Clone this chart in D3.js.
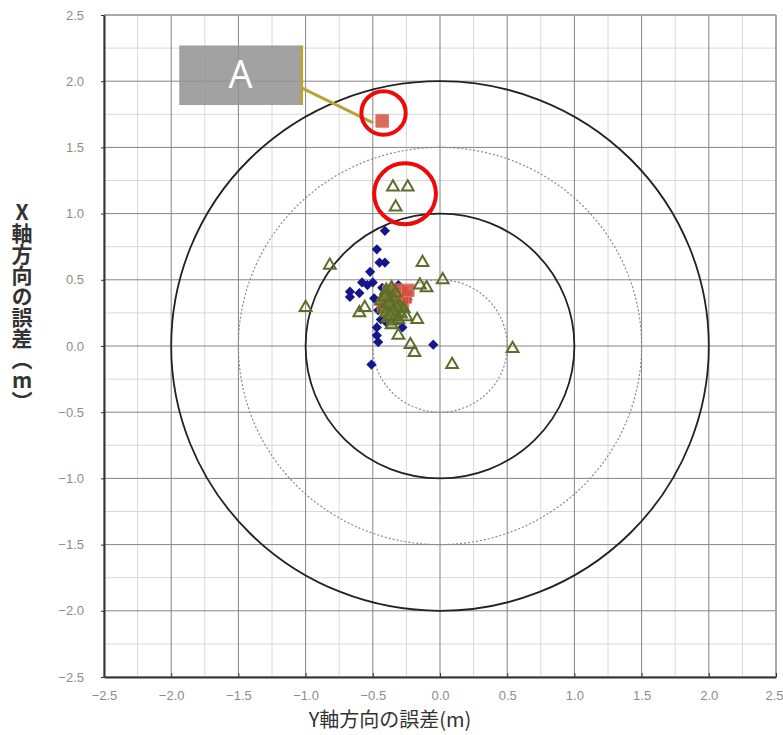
<!DOCTYPE html>
<html>
<head>
<meta charset="utf-8">
<script src="https://d3js.org/d3.v7.min.js"></script>
<style>
  html, body { margin: 0; padding: 0; background: #fff; }
  svg { display: block; }
</style>
</head>
<body>
<div id="chart"></div>
<script>
'use strict';

// ─── DATA ────────────────────────────────────────────────────

var tickValues = [-2.5, -2.0, -1.5, -1.0, -0.5, 0.0, 0.5, 1.0, 1.5, 2.0, 2.5];
var minorValues = [-2.25, -1.75, -1.25, -0.75, -0.25, 0.25, 0.75, 1.25, 1.75, 2.25];

var solidRadii = [1.0, 2.0];
var dottedRadii = [0.5, 1.5];

// [Y error, X error]
var blueDiamonds = [
    [-0.41, 0.87], [-0.47, 0.73], [-0.45, 0.63], [-0.41, 0.63], [-0.52, 0.56],
    [-0.67, 0.41], [-0.67, 0.37], [-0.58, 0.48], [-0.54, 0.46], [-0.50, 0.48],
    [-0.43, 0.44], [-0.31, 0.46], [-0.26, 0.40], [-0.44, 0.20], [-0.40, 0.18],
    [-0.47, 0.14], [-0.47, 0.08], [-0.46, 0.03], [-0.28, 0.14], [-0.05, 0.01],
    [-0.51, -0.14], [-0.49, 0.36], [-0.46, 0.27], [-0.60, 0.40], [-0.24, 0.35]
];

var redSquares = [
    [-0.43, 1.70],
    [-0.33, 0.42], [-0.29, 0.40], [-0.26, 0.37], [-0.31, 0.35], [-0.36, 0.38],
    [-0.28, 0.33], [-0.38, 0.41], [-0.24, 0.42], [-0.33, 0.31], [-0.42, 0.31]
];

var greenTriangles = [
    [-0.35, 1.20], [-0.24, 1.20], [-0.33, 1.05],
    [-0.82, 0.61], [-1.00, 0.29], [-0.13, 0.63], [0.02, 0.50], [-0.15, 0.46],
    [-0.10, 0.44], [-0.60, 0.25], [-0.56, 0.29], [-0.17, 0.20], [-0.25, 0.22],
    [-0.31, 0.08], [-0.22, 0.01], [-0.19, -0.05], [0.09, -0.14], [0.54, -0.02]
];

// dense core of the triangle series
var clusterTriangles = [
    [-0.40, 0.42], [-0.36, 0.44], [-0.33, 0.40], [-0.38, 0.36], [-0.34, 0.34],
    [-0.30, 0.30], [-0.42, 0.28], [-0.37, 0.27], [-0.33, 0.25], [-0.29, 0.24],
    [-0.39, 0.21], [-0.35, 0.19], [-0.31, 0.20], [-0.44, 0.34], [-0.27, 0.28],
    [-0.36, 0.31], [-0.32, 0.29], [-0.40, 0.25], [-0.34, 0.22], [-0.38, 0.32],
    [-0.35, 0.26], [-0.37, 0.23], [-0.41, 0.37], [-0.36, 0.16]
];

// highlight rings: centre and radius in metres
var highlightRings = [
    { x: -0.42, y: 1.76, r: 0.165 },
    { x: -0.26, y: 1.15, r: 0.23 }
];

// callout box "A" (data extent) and the point it refers to
var callout = { label: 'A', x0: -1.94, x1: -1.03, y0: 2.27, y1: 1.82, yLeader: 1.95, target: [-0.43, 1.70] };

var xTitle = 'Y軸方向の誤差(m)';
var yTitle = 'X軸方向の誤差︵m︶';

// ─── LAYOUT ──────────────────────────────────────────────────

var width = 783, height = 735;
var margin = { top: 15, right: 7, bottom: 58, left: 104 };

var svg = d3.select('#chart').append('svg')
    .attr('width', width)
    .attr('height', height);

var x = d3.scaleLinear().domain([-2.5, 2.5]).range([margin.left, width - margin.right]);
var y = d3.scaleLinear().domain([-2.5, 2.5]).range([height - margin.bottom, margin.top]);

var fmt = function(d) { return d3.format('.1f')(d).replace('-', '−'); };

// ─── GRID ────────────────────────────────────────────────────

var grid = svg.append('g').attr('class', 'grid');

grid.selectAll('line.minor-v').data(minorValues).enter().append('line')
    .attr('x1', function(d) { return x(d); }).attr('x2', function(d) { return x(d); })
    .attr('y1', y(-2.5)).attr('y2', y(2.5))
    .attr('stroke', '#d8d8d8').attr('stroke-width', 1);
grid.selectAll('line.minor-h').data(minorValues).enter().append('line')
    .attr('y1', function(d) { return y(d); }).attr('y2', function(d) { return y(d); })
    .attr('x1', x(-2.5)).attr('x2', x(2.5))
    .attr('stroke', '#d8d8d8').attr('stroke-width', 1);

grid.selectAll('line.major-v').data(tickValues).enter().append('line')
    .attr('x1', function(d) { return x(d); }).attr('x2', function(d) { return x(d); })
    .attr('y1', y(-2.5)).attr('y2', y(2.5))
    .attr('stroke', '#858585').attr('stroke-width', 1);
grid.selectAll('line.major-h').data(tickValues).enter().append('line')
    .attr('y1', function(d) { return y(d); }).attr('y2', function(d) { return y(d); })
    .attr('x1', x(-2.5)).attr('x2', x(2.5))
    .attr('stroke', '#858585').attr('stroke-width', 1);

// frame: top/right light, left/bottom dark
svg.append('line').attr('x1', x(-2.5)).attr('x2', x(2.5)).attr('y1', y(2.5)).attr('y2', y(2.5))
    .attr('stroke', '#a8a8a8').attr('stroke-width', 2);
svg.append('line').attr('x1', x(2.5)).attr('x2', x(2.5)).attr('y1', y(2.5)).attr('y2', y(-2.5))
    .attr('stroke', '#a8a8a8').attr('stroke-width', 2);

// ─── AXES ────────────────────────────────────────────────────

var xAxis = svg.append('g')
    .attr('transform', 'translate(0,' + y(-2.5) + ')')
    .call(d3.axisBottom(x).tickValues(tickValues).tickFormat(fmt).tickSizeInner(-4).tickSizeOuter(0).tickPadding(14));
var yAxis = svg.append('g')
    .attr('transform', 'translate(' + x(-2.5) + ',0)')
    .call(d3.axisLeft(y).tickValues(tickValues).tickFormat(fmt).tickSizeInner(3).tickSizeOuter(0).tickPadding(17));

[xAxis, yAxis].forEach(function(ax) {
    ax.select('.domain').attr('stroke', '#333').attr('stroke-width', 2);
    ax.selectAll('.tick line').attr('stroke', '#333');
    ax.selectAll('.tick text')
        .attr('fill', '#8c8c8c')
        .attr('font-family', 'Liberation Sans, Arial, sans-serif')
        .attr('font-size', 13);
});

// last x label sits at the window edge; keep it inside
xAxis.selectAll('.tick text').filter(function(d) { return d === 2.5; })
    .attr('text-anchor', 'end')
    .attr('dx', 7);

// ─── ERROR CIRCLES ───────────────────────────────────────────

var circles = svg.append('g').attr('class', 'circles');

circles.selectAll('ellipse.dotted').data(dottedRadii).enter().append('ellipse')
    .attr('cx', x(0)).attr('cy', y(0))
    .attr('rx', function(d) { return x(d) - x(0); })
    .attr('ry', function(d) { return y(0) - y(d); })
    .attr('fill', 'none')
    .attr('stroke', '#8a8a8a')
    .attr('stroke-width', 1.2)
    .attr('stroke-dasharray', '2,2');

circles.selectAll('ellipse.solid').data(solidRadii).enter().append('ellipse')
    .attr('cx', x(0)).attr('cy', y(0))
    .attr('rx', function(d) { return x(d) - x(0); })
    .attr('ry', function(d) { return y(0) - y(d); })
    .attr('fill', 'none')
    .attr('stroke', '#222')
    .attr('stroke-width', 1.8);

// ─── POINTS ──────────────────────────────────────────────────

var points = svg.append('g').attr('class', 'points');

points.selectAll('path.diamond').data(blueDiamonds).enter().append('path')
    .attr('d', d3.symbol().type(d3.symbolSquare).size(52))
    .attr('transform', function(d) { return 'translate(' + x(d[0]) + ',' + y(d[1]) + ') rotate(45)'; })
    .attr('fill', '#15158c');

points.selectAll('path.square').data(redSquares).enter().append('path')
    .attr('d', d3.symbol().type(d3.symbolSquare).size(160))
    .attr('transform', function(d) { return 'translate(' + x(d[0]) + ',' + y(d[1]) + ')'; })
    .attr('fill', '#d4503e')
    .attr('fill-opacity', 0.85)
    .attr('stroke', '#e07a6a')
    .attr('stroke-width', 1);

points.selectAll('path.core').data(clusterTriangles).enter().append('path')
    .attr('d', d3.symbol().type(d3.symbolTriangle).size(60))
    .attr('transform', function(d) { return 'translate(' + x(d[0]) + ',' + y(d[1]) + ')'; })
    .attr('fill', '#6f862e')
    .attr('fill-opacity', 0.55)
    .attr('stroke', '#5f6d2a')
    .attr('stroke-width', 2);

points.selectAll('path.triangle').data(greenTriangles).enter().append('path')
    .attr('d', d3.symbol().type(d3.symbolTriangle).size(60))
    .attr('transform', function(d) { return 'translate(' + x(d[0]) + ',' + y(d[1]) + ')'; })
    .attr('fill', 'none')
    .attr('stroke', '#5f6d2a')
    .attr('stroke-width', 2);

// ─── CALLOUT ─────────────────────────────────────────────────

var note = svg.append('g').attr('class', 'callout');

note.append('rect')
    .attr('x', x(callout.x0)).attr('y', y(callout.y0))
    .attr('width', x(callout.x1) - x(callout.x0))
    .attr('height', y(callout.y1) - y(callout.y0))
    .attr('fill', '#929292')
    .attr('fill-opacity', 0.85);

note.append('text')
    .attr('x', (x(callout.x0) + x(callout.x1)) / 2)
    .attr('y', (y(callout.y0) + y(callout.y1)) / 2 + 13)
    .attr('text-anchor', 'middle')
    .attr('fill', '#fff')
    .attr('font-family', 'Open Sans, Liberation Sans, sans-serif')
    .attr('font-size', 38)
    .text(callout.label);

note.append('line')
    .attr('x1', x(callout.x1)).attr('x2', x(callout.x1))
    .attr('y1', y(callout.y0)).attr('y2', y(callout.y1))
    .attr('stroke', '#b8a23a').attr('stroke-width', 3);
note.append('line')
    .attr('x1', x(callout.x1)).attr('y1', y(callout.yLeader))
    .attr('x2', x(callout.target[0]) - 9).attr('y2', y(callout.target[1]) + 2)
    .attr('stroke', '#b8a23a').attr('stroke-width', 3);

note.selectAll('ellipse.ring').data(highlightRings).enter().append('ellipse')
    .attr('cx', function(d) { return x(d.x); })
    .attr('cy', function(d) { return y(d.y); })
    .attr('rx', function(d) { return x(d.r) - x(0); })
    .attr('ry', function(d) { return y(0) - y(d.r); })
    .attr('fill', 'none')
    .attr('stroke', '#ee0a0a')
    .attr('stroke-width', 4);

// ─── TITLES ──────────────────────────────────────────────────

svg.append('text')
    .attr('x', 390)
    .attr('y', 727)
    .attr('text-anchor', 'middle')
    .attr('fill', '#333')
    .attr('font-family', 'Noto Sans CJK JP, sans-serif')
    .attr('font-size', 20)
    .text(xTitle);

svg.append('text')
    .attr('x', 22)
    .attr('y', 307)
    .attr('text-anchor', 'middle')
    .attr('fill', '#333')
    .attr('font-family', 'Noto Sans CJK JP, sans-serif')
    .attr('font-size', 21)
    .attr('font-weight', 'bold')
    .style('writing-mode', 'vertical-rl')
    .style('text-orientation', 'upright')
    .text(yTitle);
</script>
</body>
</html>
